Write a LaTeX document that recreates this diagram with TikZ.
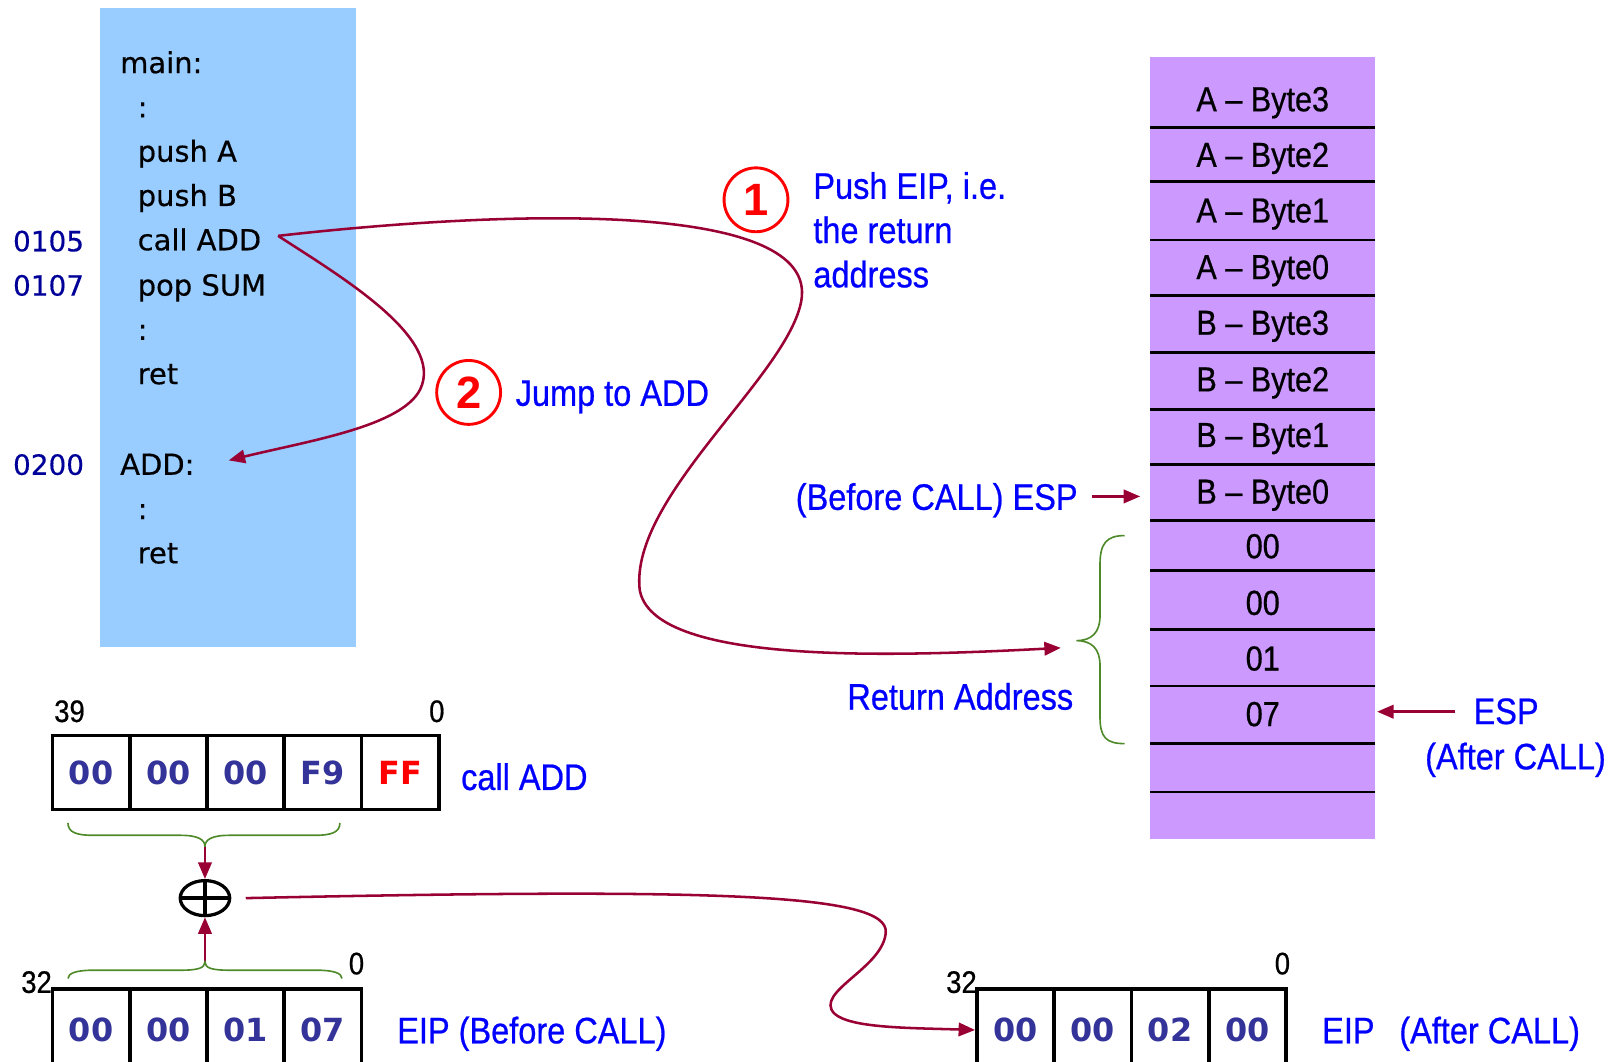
\documentclass[tikz,border=0pt]{standalone}
\usepackage{fontspec}
\usetikzlibrary{arrows.meta,shapes.geometric}
\newfontfamily\codefont[FakeBold=0.4]{DejaVu Sans}
\newfontfamily\bytefont{DejaVu Sans}
\newfontfamily\narrowfont[FakeStretch=0.88,FakeBold=0.6]{Liberation Sans}
\newfontfamily\numfont{Liberation Sans}
\definecolor{codebg}{HTML}{99CCFF}
\definecolor{stackbg}{HTML}{CC99FF}
\definecolor{addrblue}{HTML}{000099}
\definecolor{bytecol}{HTML}{333399}
\definecolor{labelblue}{HTML}{0000FF}
\definecolor{flowred}{HTML}{990033}
\definecolor{bracegreen}{HTML}{4F8A2A}
\begin{document}
\begin{tikzpicture}[x=0.01cm,y=-0.01cm,
  code/.style={anchor=base west,inner sep=0,font=\codefont\fontsize{8}{9}\selectfont},
  addr/.style={anchor=base west,inner sep=0,text=addrblue,font=\codefont\fontsize{7.7}{9}\selectfont},
  lbl/.style={anchor=base west,inner sep=0,text=labelblue,font=\narrowfont\fontsize{10.2}{12}\selectfont},
  stk/.style={anchor=base,inner sep=0,font=\narrowfont\fontsize{9.6}{11}\selectfont},
  bitno/.style={anchor=base west,inner sep=0,font=\narrowfont\fontsize{8.6}{10}\selectfont},
  cell/.style={draw,line width=1pt,minimum width=0.75cm,inner sep=0,text=bytecol,
    font=\bytefont\bfseries\fontsize{8.8}{10}\selectfont},
  topcell/.style={cell,minimum height=0.72cm},
  eipcell/.style={cell,minimum height=0.8cm},
  flow/.style={draw=flowred,line width=0.7pt,-{Triangle[length=0.16cm,width=0.13cm]}},
  stepnum/.style={circle,draw=red,line width=0.8pt,minimum size=0.62cm,inner sep=0,text=red,
    font=\numfont\bfseries\fontsize{12.5}{13}\selectfont},
  curly/.style={draw=bracegreen,line width=0.45pt}]
\clip (0,0) rectangle (1568,1031);
\useasboundingbox (0,0) rectangle (1568,1031);

% program listing
\fill[codebg] (97,8) rectangle (346,628);
\node[code] (lmain) at (116,71) {main:};
\node[code] at (133,114) {:};
\node[code] at (133,157) {push A};
\node[code] at (133,200) {push B};
\node[code] (lcall) at (133,243) {call ADD};
\node[code] at (133,287) {pop SUM};
\node[code] at (133,330) {:};
\node[code] at (133,373) {ret};
\node[code] (ladd) at (116,461) {ADD:};
\node[code] at (133,504) {:};
\node[code] at (133,547) {ret};
\node[addr] at (12,244) {0105};
\node[addr] at (12,287) {0107};
\node[addr] at (12,461) {0200};
\coordinate (callpt) at (270,229);
\coordinate (addpt) at (222,447);

% stack
\fill[stackbg] (1117,55) rectangle (1335,815);
\foreach \y in {124,176,233,287,342,398,451,505,554,611,666,722,769}
  \draw[line width=0.8pt] (1117,\y) -- (1335,\y);
\node[stk] (s1) at (1226,108) {A – Byte3};
\node[stk] (s2) at (1226,162) {A – Byte2};
\node[stk] (s3) at (1226,216) {A – Byte1};
\node[stk] (s4) at (1226,271) {A – Byte0};
\node[stk] (s5) at (1226,325) {B – Byte3};
\node[stk] (s6) at (1226,380) {B – Byte2};
\node[stk] (s7) at (1226,434) {B – Byte1};
\node[stk] (s8) at (1226,489) {B – Byte0};
\node[stk] (s9) at (1226,542) {00};
\node[stk] (s10) at (1226,597) {00};
\node[stk] (s11) at (1226,651) {01};
\node[stk] (s12) at (1226,705) {07};
\coordinate (espold) at (1107,482);
\coordinate (espnew) at (1337,691);
\coordinate (retpt) at (1030,629);

% labels
\node[stepnum] (c1) at (734,194) {1};
\node[lbl] at (789,193) {Push EIP, i.e.};
\node[lbl] at (789,236) {the return};
\node[lbl] at (789,279) {address};
\node[stepnum] (c2) at (455,381) {2};
\node[lbl] at (500,394) {Jump to ADD};
\node[lbl,anchor=base east] (beforeesp) at (1047,495) {(Before CALL) ESP};
\node[lbl] (retlbl) at (822,689) {Return Address};
\node[lbl] (espafter) at (1430,703) {ESP};
\node[lbl] at (1383,747) {(After CALL)};

% return-address brace
\draw[curly] (1092,520) .. controls (1074,520) and (1068,528) .. (1068,548) -- (1068,598)
  .. controls (1068,614) and (1060,622) .. (1045,622)
  .. controls (1060,622) and (1068,630) .. (1068,646) -- (1068,696)
  .. controls (1068,716) and (1074,722) .. (1092,722);

% stack pointer arrows
\draw[flow] ([xshift=0.13cm]beforeesp.east |- espold) -- (espold);
\draw[flow] (1413,691) -- (espnew);

% control flow of the call
\draw[flow] (callpt) .. controls (500,203) and (795,195) .. (778,292)
  .. controls (765,365) and (612,482) .. (621,572)
  .. controls (632,645) and (860,638) .. (retpt);
\draw[flow] (callpt) .. controls (330,268) and (432,328) .. (408,378)
  .. controls (390,414) and (300,428) .. (addpt);

% call instruction bytes
\node[topcell] (b1) at (88.5,750) {00};
\node[topcell] (b2) at (163.5,750) {00};
\node[topcell] (b3) at (238.5,750) {00};
\node[topcell] (b4) at (313.5,750) {F9};
\node[topcell,text=red] (b5) at (388.5,750) {FF};
\node[bitno] at (52,701) {39};
\node[bitno] at (416,701) {0};
\node[lbl] at (447,767) {call ADD};

% offset brace
\draw[curly] (66,799) .. controls (66,808) and (74,811) .. (90,811) -- (175,811)
  .. controls (192,811) and (199,815) .. (199,822)
  .. controls (199,815) and (206,811) .. (223,811) -- (306,811)
  .. controls (322,811) and (330,808) .. (330,799);

% adder
\node[draw,ellipse,line width=0.9pt,minimum width=0.48cm,minimum height=0.34cm,inner sep=0] (xor) at (199,872) {};
\draw[line width=0.9pt] (xor.north) -- (xor.south) (xor.west) -- (xor.east);
\coordinate (offtip) at (199,822);
\coordinate (eiptip) at (199,936);
\draw[flow] (offtip) -- (xor.north);
\draw[flow] (eiptip) -- (xor.south);

% EIP before the call
\node[eipcell] (e1) at (88.5,1000) {00};
\node[eipcell] (e2) at (163.5,1000) {00};
\node[eipcell] (e3) at (238.5,1000) {01};
\node[eipcell] (e4) at (313.5,1000) {07};
\node[bitno] at (20,964) {32};
\node[bitno] at (338,946) {0};
\node[lbl] at (385,1013) {EIP (Before CALL)};
\draw[curly] (66,950) .. controls (66,945) and (74,942) .. (90,942) -- (175,942)
  .. controls (192,942) and (199,940) .. (199,934)
  .. controls (199,940) and (206,942) .. (223,942) -- (308,942)
  .. controls (324,942) and (332,945) .. (332,950);

% EIP after the call
\node[eipcell] (f1) at (986,1000) {00};
\node[eipcell] (f2) at (1061,1000) {00};
\node[eipcell] (f3) at (1136,1000) {02};
\node[eipcell] (f4) at (1211,1000) {00};
\node[bitno] at (918,964) {32};
\node[bitno] at (1237,946) {0};
\node[lbl] at (1283,1013) {EIP\hspace*{0.24cm}(After CALL)};

% new EIP
\draw[flow] ([xshift=0.14cm]xor.east) .. controls (700,862) and (862,868) .. (860,905)
  .. controls (858,940) and (790,963) .. (810,984)
  .. controls (825,998) and (880,998) .. (f1.west);
\end{tikzpicture}
\end{document}
